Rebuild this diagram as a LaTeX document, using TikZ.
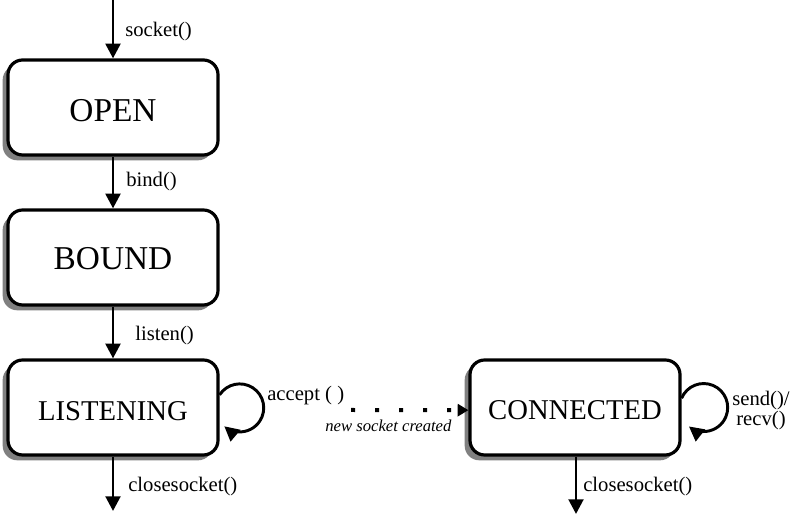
\documentclass[tikz,border=0pt]{standalone}
\usepackage{fontspec}
\setmainfont{Liberation Serif}
\usetikzlibrary{arrows.meta,shadows}
\begin{document}
\begin{tikzpicture}[x=0.75pt,y=0.75pt,
  state/.style={draw=black,line width=2.4pt,rounded corners=11pt,fill=white,
    minimum width=157.5pt,minimum height=71.25pt,inner sep=0pt,
    general shadow={fill=black!50,shadow xshift=-4pt,shadow yshift=-4pt}},
  big/.style={font=\fontsize{25}{28}\selectfont},
  mid/.style={font=\fontsize{21.5}{24}\selectfont},
  lbl/.style={font=\fontsize{15.5}{17}\selectfont,inner sep=0pt,anchor=west},
  arr/.style={line width=2.2pt,-{Triangle[width=11pt,length=11pt]}},
  dotarr/.style={line width=3pt,dash pattern=on 3pt off 15pt,-{Triangle[width=9pt,length=8pt]}}]
\useasboundingbox (0,0) rectangle (791,516);
\node[state,big] (O) at (113,408.5) {\raisebox{-10.4pt}[0pt][0pt]{OPEN}};
\node[state,big] (B) at (113,258.5) {\raisebox{-9pt}[0pt][0pt]{BOUND}};
\node[state,mid] (L) at (113,108.5) {\raisebox{-9.6pt}[0pt][0pt]{LISTENING}};
\node[state,mid] (C) at (575,108.5) {\raisebox{-9.1pt}[0pt][0pt]{CONNECTED}};
\coordinate (top) at (113,516);
\coordinate (lend) at (113,5);
\coordinate (cend) at (576,2);
\coordinate (d0) at (351,106);
\draw[arr] (top) -- (O.north);
\draw[arr] (O.south) -- (B.north);
\draw[arr] (B.south) -- (L.north);
\draw[arr] (L.south) -- (lend);
\draw[arr] (C.south -| cend) -- (cend);
\draw[arr] ([yshift=9.5pt]L.east) arc[start angle=147,end angle=-130,radius=24];
\draw[arr] ([yshift=7pt]C.east) arc[start angle=157,end angle=-128,radius=24];
\draw[dotarr] (d0) -- ([yshift=-2pt]C.west);
\node[lbl] (l1) at (125,484) {socket()};
\node[lbl] (l2) at (126,334) {bind()};
\node[lbl] (l3) at (135,180) {listen()};
\node[lbl] (l4) at (128,29) {closesocket()};
\node[lbl] (l5) at (583,29) {closesocket()};
\node[lbl] (l6) at (267,120) {accept ( )};
\node[lbl,font=\fontsize{12.5}{14}\selectfont\itshape] (l7) at (325,90) {new socket created};
\node[font=\fontsize{15.5}{15}\selectfont,align=center,inner sep=0pt] (l8) at (761,105) {send()/\\recv()};
\end{tikzpicture}
\end{document}
